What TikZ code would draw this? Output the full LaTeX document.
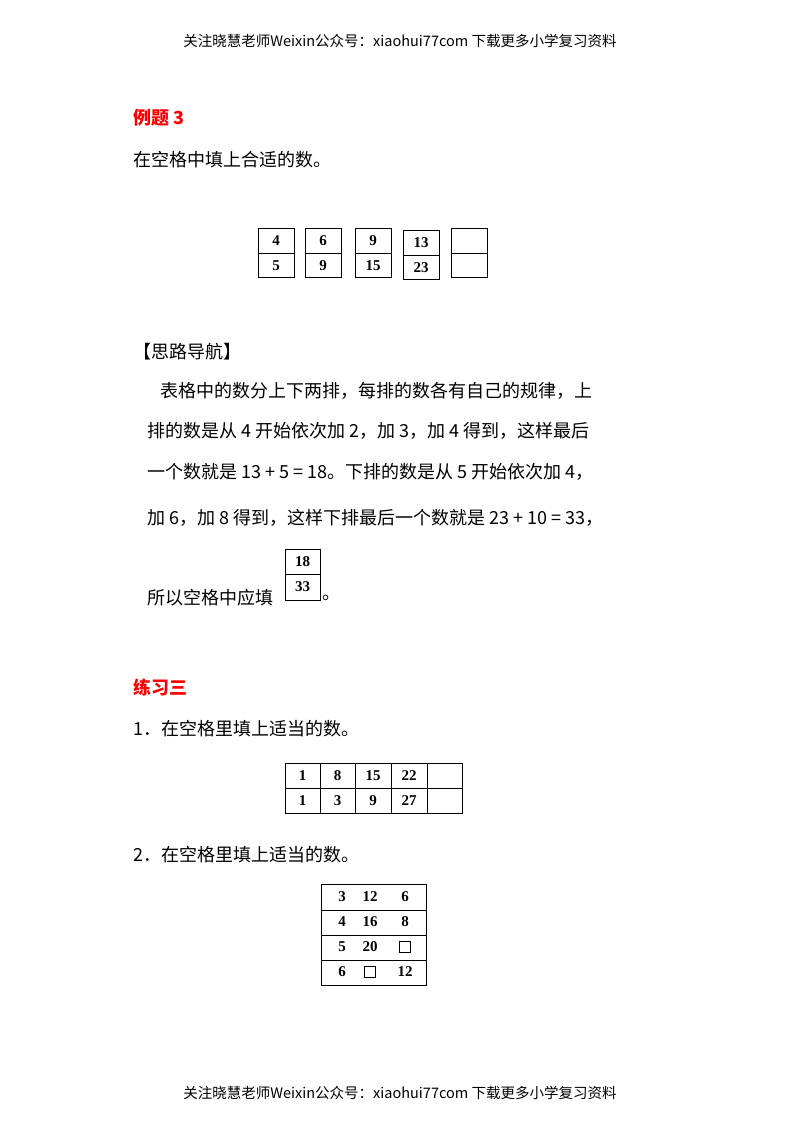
\documentclass[tikz,border=0pt]{standalone}
\usepackage{fontspec}
\newfontfamily\cjk{Noto Sans CJK SC}
\newfontfamily\numf{Liberation Serif}
\begin{document}
\begin{tikzpicture}[x=1pt,y=-1pt,
  hdr/.style={font=\cjk\fontsize{14.5}{16}\selectfont},
  txt/.style={anchor=west,inner sep=0,font=\cjk\fontsize{18}{20}\selectfont},
  ttl/.style={anchor=west,inner sep=0,text=red,font=\cjk\bfseries\fontsize{18}{20}\selectfont},
  num/.style={inner sep=0,font=\numf\bfseries\fontsize{15}{16}\selectfont},
  box/.style={draw,line width=0.9pt},
  sq/.style={draw,line width=1pt,minimum width=11pt,minimum height=11pt,inner sep=0}]
\useasboundingbox[fill=white] (0,0) rectangle (800,1132);
\node[hdr] (h1) at (400,41) {关注晓慧老师Weixin公众号：xiaohui77com 下载更多小学复习资料};
\node[hdr] (h2) at (400,1093) {关注晓慧老师Weixin公众号：xiaohui77com 下载更多小学复习资料};
\node[ttl] (t1) at (133,118) {例题 3};
\node[txt] (q1) at (133,160) {在空格中填上合适的数。};
% boxes
\foreach \x/\a/\b/\t in {258/4/5/228,305/6/9/228,355/9/15/228,403/13/23/230,451//{}/228}{
  \draw[box] (\x,\t) rectangle (\x+36,\t+49);
  \draw[box] (\x,\t+25) -- (\x+36,\t+25);
  \node[num] at (\x+18,\t+13) {\a};
  \node[num] at (\x+18,\t+38) {\b};
}
\node[txt] (s) at (133,352) {【思路导航】};
\node[txt] (p1) at (160,391) {表格中的数分上下两排，每排的数各有自己的规律，上};
\node[txt] (p2) at (147,431) {排的数是从 4 开始依次加 2，加 3，加 4 得到，这样最后};
\node[txt] (p3) at (147,472) {一个数就是 13 + 5 = 18。下排的数是从 5 开始依次加 4，};
\node[txt] (p4) at (147,518) {加 6，加 8 得到，这样下排最后一个数就是 23 + 10 = 33，};
\node[txt] (p5) at (147,598) {所以空格中应填};
\draw[box] (285,549) rectangle (320,600);
\draw[box] (285,574) -- (320,574);
\node[num] at (302.5,562) {18};
\node[num] at (302.5,587) {33};
\node[txt] (p6) at (322,598) {。};
\node[ttl] (t2) at (133,687) {练习三};
\node[txt] (e1) at (133,729) {1．在空格里填上适当的数。};
\draw[box] (285,763) rectangle (462,813);
\draw[box] (285,788) -- (462,788);
\foreach \x in {320,355,391,427} \draw[box] (\x,763) -- (\x,813);
\foreach \c/\a/\b in {302.5/1/1,337.5/8/3,373/15/9,409/22/27}{
  \node[num] at (\c,776) {\a};
  \node[num] at (\c,801) {\b};
}
\node[txt] (e2) at (133,855) {2．在空格里填上适当的数。};
\draw[box] (321,884) rectangle (426,985);
\foreach \y in {910,935,960} \draw[box] (321,\y) -- (426,\y);
\node[num] at (342,897) {3}; \node[num] at (370,897) {12}; \node[num] at (405,897) {6};
\node[num] at (342,922) {4}; \node[num] at (370,922) {16}; \node[num] at (405,922) {8};
\node[num] at (342,947) {5}; \node[num] at (370,947) {20}; \node[sq] at (405,947) {};
\node[num] at (342,972) {6}; \node[sq] at (370,972) {}; \node[num] at (405,972) {12};
\end{tikzpicture}
\end{document}
